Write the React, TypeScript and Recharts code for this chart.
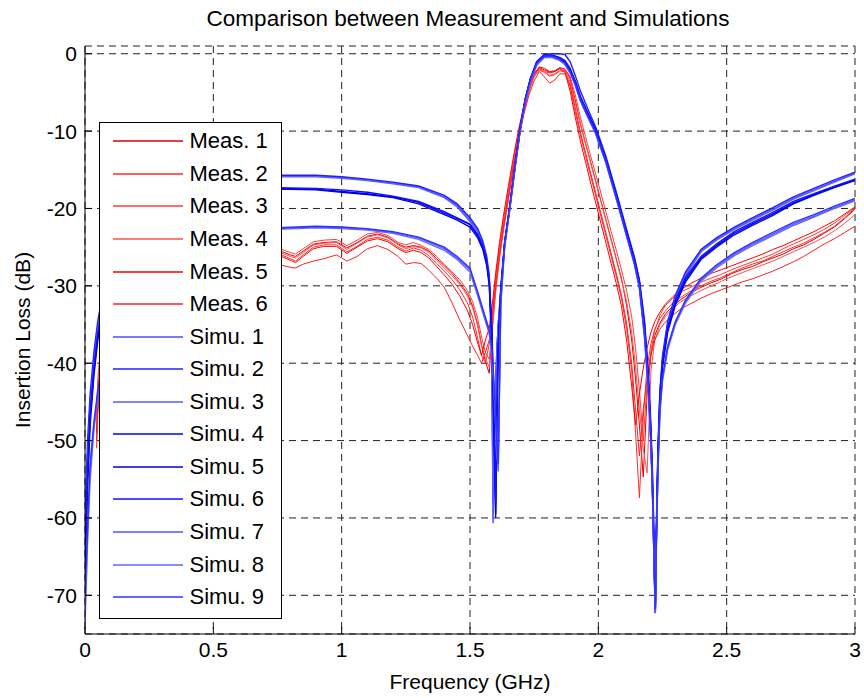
import React from 'react';
import { LineChart, Line, XAxis, YAxis, CartesianGrid, Legend } from 'recharts';

const FONT = '"Liberation Sans", Arial, Helvetica, sans-serif';

// measured traces share one frequency grid (GHz)
const measFreq = [
  0.045, 0.05, 0.06, 0.08, 0.12, 0.2, 0.3, 0.45, 0.6, 0.72,
  0.76, 0.8, 0.82, 0.85, 0.89, 0.93, 0.98, 1.02, 1.06, 1.1,
  1.14, 1.18, 1.22, 1.25, 1.28, 1.31, 1.34, 1.37, 1.4, 1.43,
  1.46, 1.49, 1.51, 1.53, 1.545, 1.56, 1.575, 1.59, 1.6, 1.615,
  1.63, 1.65, 1.67, 1.69, 1.71, 1.73, 1.75, 1.77, 1.79, 1.81,
  1.83, 1.85, 1.87, 1.89, 1.91, 1.93, 1.95, 1.97, 1.99, 2.01,
  2.03, 2.05, 2.07, 2.09, 2.11, 2.13, 2.145, 2.16, 2.175, 2.19,
  2.205, 2.22, 2.24, 2.26, 2.29, 2.32, 2.36, 2.4, 2.44, 2.48,
  2.52, 2.56, 2.6, 2.64, 2.68, 2.72, 2.76, 2.8, 2.84, 2.88,
  2.92, 2.96, 3.0,
];

const meas1 = [
  -49, -44, -39.5, -34.5, -30.5, -27.5, -26, -25.2, -25.3, -25.2,
  -25.5, -26.0, -26.2, -25.5, -24.6, -24.4, -24.3, -25.1, -24.4, -23.6,
  -23.3, -23.7, -24.6, -25.0, -24.8, -25.0, -25.5, -26.5, -27.4, -28.4,
  -29.6, -31.0, -32.6, -35.0, -37.6, -39.8, -41.3, -34.0, -30.2, -26.0,
  -22.6, -18.4, -14.3, -10.5, -7.3, -4.6, -2.6, -1.7, -1.9, -2.3,
  -2.2, -1.8, -2.0, -3.2, -6.0, -9.0, -11.6, -14.0, -16.5, -19.0,
  -21.5, -24.0, -26.5, -29.0, -32.5, -37.0, -42.0, -48.0, -54.7, -44.0,
  -39.0, -36.4, -34.8, -33.7, -32.6, -31.8, -30.9, -30.2, -29.6, -29.1,
  -28.4, -27.9, -27.5, -26.9, -26.4, -25.9, -25.2, -24.7, -24.0, -23.2,
  -22.4, -21.3, -20.1,
];
const meas2 = [
  -47, -43, -38.5, -34, -30.5, -27.8, -26.3, -25.4, -25.5, -25.6,
  -25.9, -26.5, -26.8, -26.0, -25.0, -24.7, -24.7, -25.6, -24.9, -24.0,
  -23.7, -24.1, -25.0, -25.5, -25.1, -25.4, -26.1, -27.1, -28.1, -29.2,
  -30.5, -32.2, -34.0, -36.8, -39.0, -40.0, -37.5, -32.5, -29.0, -25.0,
  -21.6, -17.6, -13.7, -10.0, -6.9, -4.4, -2.9, -2.1, -2.4, -2.9,
  -2.7, -2.2, -2.3, -4.2, -7.5, -10.5, -13.2, -15.8, -18.4, -21.0,
  -23.6, -26.2, -28.8, -31.6, -35.5, -41.0, -49.0, -57.4, -47.0, -40.5,
  -37.5, -35.6, -34.2, -33.3, -32.2, -31.5, -30.7, -30.0, -29.4, -28.9,
  -28.3, -27.7, -27.2, -26.8, -26.2, -25.6, -25.0, -24.5, -23.8, -23.1,
  -22.3, -21.2, -20.0,
];
const meas3 = [
  -46, -42, -38, -33.5, -30, -27, -25.6, -24.8, -24.9, -24.9,
  -25.2, -25.7, -25.9, -25.2, -24.3, -24.1, -24.0, -24.8, -24.1, -23.3,
  -23.1, -23.5, -24.4, -24.7, -24.4, -24.8, -25.3, -26.2, -27.2, -28.2,
  -29.2, -30.6, -32.0, -34.2, -36.6, -38.6, -39.5, -34.6, -30.8, -26.5,
  -22.9, -18.8, -14.6, -10.8, -7.6, -4.9, -3.0, -2.0, -2.3, -2.5,
  -2.3, -1.9, -2.0, -2.9, -5.3, -8.2, -10.7, -13.2, -15.6, -18.0,
  -20.5, -23.0, -25.4, -27.9, -30.6, -34.0, -38.0, -43.5, -50.0, -42.5,
  -38.4, -35.8, -33.8, -32.6, -31.6, -30.8, -30.2, -29.5, -29.0, -28.5,
  -27.9, -27.4, -26.9, -26.4, -25.9, -25.2, -24.6, -24.0, -23.4, -22.7,
  -21.9, -20.9, -19.9,
];
const meas4 = [
  -48, -43.5, -39, -34.5, -30.8, -27.6, -26.1, -25.3, -25.4, -25.4,
  -25.7, -26.2, -26.4, -25.7, -24.7, -24.5, -24.4, -25.3, -24.5, -23.7,
  -23.4, -23.8, -24.7, -25.2, -24.9, -25.1, -25.7, -26.7, -27.7, -28.7,
  -29.8, -31.3, -32.8, -35.2, -37.8, -39.4, -40.5, -33.4, -29.7, -25.6,
  -22.2, -18.0, -14.0, -10.3, -7.1, -4.5, -2.8, -1.9, -2.3, -2.8,
  -2.6, -2.1, -2.2, -3.6, -6.3, -9.1, -11.6, -14.1, -16.6, -19.1,
  -21.6, -24.1, -26.6, -29.2, -32.0, -36.0, -40.5, -46.0, -51.0, -54.2,
  -41.0, -37.0, -35.0, -34.0, -32.9, -32.1, -31.3, -30.6, -30.0, -29.4,
  -28.8, -28.3, -27.8, -27.3, -26.8, -26.2, -25.6, -25.0, -24.4, -23.7,
  -22.9, -21.9, -20.8,
];
const meas5 = [
  -50, -45.5, -40.5, -35.5, -31.2, -28, -26.4, -25.5, -25.6, -25.8,
  -26.1, -26.7, -27.0, -26.2, -25.2, -24.9, -24.9, -25.8, -25.0, -24.2,
  -23.9, -24.3, -25.2, -25.7, -25.4, -25.7, -26.4, -27.5, -28.6, -29.8,
  -31.3, -33.2, -35.0, -37.4, -39.0, -37.0, -35.5, -31.5, -28.3, -24.4,
  -21.0, -17.0, -13.2, -9.7, -6.7, -4.2, -2.6, -1.8, -2.1, -2.4,
  -2.3, -1.9, -2.4, -4.8, -8.2, -11.3, -14.0, -16.7, -19.3, -21.9,
  -24.5, -27.1, -29.7, -32.6, -37.0, -43.0, -48.0, -44.0, -40.6, -38.0,
  -36.0, -34.6, -33.4, -32.4, -31.4, -30.5, -29.7, -29.0, -28.4, -27.9,
  -27.4, -26.9, -26.4, -25.9, -25.3, -24.8, -24.2, -23.6, -23.0, -22.3,
  -21.6, -20.7, -19.8,
];
const meas6 = [
  -51, -46.5, -41.5, -36.5, -32.5, -29.5, -28, -27.2, -27.2, -27.1,
  -27.3, -27.6, -27.7, -27.2, -26.8, -26.5, -26.0, -26.8, -26.2, -25.2,
  -24.8, -25.3, -26.2, -27.2, -27.0, -27.1, -28.0, -29.0, -30.2, -32.2,
  -34.4, -36.4, -37.8, -39.0, -40.0, -38.6, -37.0, -33.0, -29.8, -25.9,
  -22.4, -18.4, -14.5, -10.9, -7.8, -5.3, -3.5, -2.3, -3.0, -3.8,
  -3.4, -2.6, -2.6, -4.0, -7.0, -10.1, -12.8, -15.4, -18.0, -20.6,
  -23.2, -25.8, -28.4, -31.2, -34.8, -40.0, -46.0, -52.0, -46.0, -42.0,
  -38.8, -37.0, -35.6, -34.7, -33.8, -33.0, -32.3, -31.6, -31.0, -30.5,
  -30.0, -29.5, -29.1, -28.6, -28.1, -27.5, -26.9, -26.2, -25.4, -24.6,
  -23.9, -23.1, -22.3,
];

// simulated traces share another grid, denser around the two notches
const simFreq = [
  0, 0.01, 0.02, 0.035, 0.05, 0.08, 0.12, 0.2, 0.3, 0.45,
  0.6, 0.75, 0.9, 1.0, 1.1, 1.2, 1.3, 1.4, 1.45, 1.5,
  1.53, 1.55, 1.565, 1.575, 1.585, 1.59, 1.595, 1.6, 1.605, 1.61,
  1.62, 1.635, 1.655, 1.675, 1.695, 1.715, 1.735, 1.76, 1.79, 1.82,
  1.85, 1.87, 1.89, 1.91, 1.93, 1.96, 1.99, 2.03, 2.07, 2.11,
  2.14, 2.16, 2.18, 2.195, 2.205, 2.212, 2.218, 2.222, 2.226, 2.232,
  2.24, 2.25, 2.27, 2.3, 2.34, 2.4, 2.46, 2.53, 2.6, 2.68,
  2.76, 2.84, 2.92, 3.0,
];

const simu1 = [
  -62, -52, -45, -39, -35, -29.5, -25.5, -21, -18.6, -16.9,
  -16.1, -15.8, -15.8, -16.0, -16.3, -16.7, -17.2, -18.5, -19.6, -21.5,
  -22.8, -24.5, -26.5, -29, -38, -60.7, -48, -42, -38, -35,
  -30.5, -24.5, -19.8, -14.6, -9.8, -6.0, -3.4, -1.2, -0.2, -0.2,
  -0.5, -0.9, -2.0, -3.6, -5.6, -7.8, -9.9, -13.7, -18.2, -23.0,
  -26.5, -29.5, -35, -42, -49, -56, -65, -72.3, -62, -52,
  -44, -39.5, -35, -31.5, -28.5, -25.5, -24.0, -22.6, -21.4, -20.1,
  -18.7, -17.6, -16.5, -15.4,
];
const simu2 = [
  -60, -50, -44, -38.5, -34.5, -29, -25.2, -20.8, -18.4, -16.8,
  -16.0, -15.7, -15.7, -15.9, -16.2, -16.6, -17.1, -18.3, -19.4, -21.2,
  -22.6, -24.2, -26.2, -28.6, -37, -58, -50, -43, -38.5, -35.2,
  -30.8, -24.8, -20.0, -14.8, -10.0, -6.2, -3.5, -1.3, -0.1, 0,
  0, -0.1, -1.0, -2.8, -4.8, -7.2, -9.5, -13.3, -17.9, -22.7,
  -26.2, -29.2, -34.5, -41, -48, -55, -64, -71.5, -61, -51,
  -43.5, -39, -34.6, -31.2, -28.2, -25.3, -23.8, -22.4, -21.2, -19.9,
  -18.5, -17.4, -16.3, -15.3,
];
const simu3 = [
  -64, -53, -46, -40, -35.5, -30, -25.8, -21.2, -18.8, -17.0,
  -16.2, -15.9, -15.9, -16.1, -16.4, -16.8, -17.3, -18.6, -19.8, -21.7,
  -23.0, -24.7, -26.8, -29.5, -39, -60.2, -49, -42.5, -38.2, -35.1,
  -30.6, -24.6, -19.9, -14.7, -9.9, -6.1, -3.5, -1.3, -0.3, -0.3,
  -0.6, -1.1, -2.2, -3.8, -5.8, -8.0, -10.1, -13.9, -18.4, -23.2,
  -26.7, -29.7, -35.5, -42.5, -49.5, -57, -66, -72, -63, -52.5,
  -44.5, -39.8, -35.3, -31.7, -28.7, -25.6, -24.1, -22.7, -21.5, -20.2,
  -18.8, -17.7, -16.6, -15.5,
];
const simu4 = [
  -66, -55, -47, -41, -36.5, -31, -27, -22.5, -20.2, -18.5,
  -17.7, -17.4, -17.5, -17.8, -18.1, -18.5, -19.2, -20.6, -21.3, -22.1,
  -23.5, -25.0, -27.0, -29.5, -36, -42, -50, -60, -46, -38,
  -30.5, -24.4, -19.7, -14.5, -9.7, -5.9, -3.3, -1.1, -0.2, -0.3,
  -0.7, -1.2, -2.3, -3.9, -5.9, -8.1, -10.2, -14.0, -18.6, -23.4,
  -26.9, -30.0, -36, -43, -50, -58, -67, -72.3, -63, -53,
  -45, -40.5, -36, -32.5, -29.5, -26.6, -25.0, -23.4, -22.2, -20.9,
  -19.4, -18.3, -17.3, -16.4,
];
const simu5 = [
  -68, -56, -48, -41.5, -37, -31.5, -27.3, -22.7, -20.3, -18.6,
  -17.8, -17.5, -17.6, -17.9, -18.2, -18.6, -19.4, -20.8, -21.5, -22.4,
  -23.8, -25.3, -27.4, -30, -37, -44, -52, -59.5, -47, -38.5,
  -30.8, -24.6, -19.9, -14.7, -9.9, -6.0, -3.4, -1.2, -0.2, -0.2,
  -0.6, -1.0, -2.1, -3.7, -5.7, -7.9, -10.0, -13.8, -18.4, -23.1,
  -26.6, -29.8, -35.5, -42.5, -49.5, -57.5, -66.5, -72, -62.5, -52.5,
  -44.5, -40.2, -35.7, -32.2, -29.2, -26.4, -24.8, -23.2, -22.0, -20.7,
  -19.3, -18.2, -17.2, -16.3,
];
const simu6 = [
  -65, -54, -46.5, -40.5, -36, -30.7, -26.8, -22.3, -20.0, -18.4,
  -17.6, -17.3, -17.4, -17.6, -17.9, -18.4, -19.1, -20.4, -21.2, -22.0,
  -23.3, -24.8, -26.7, -29.2, -35, -41, -49, -58, -45, -37.5,
  -30.2, -24.2, -19.6, -14.4, -9.6, -5.8, -3.2, -1.0, -0.1, -0.2,
  -0.5, -0.9, -1.9, -3.5, -5.5, -7.7, -9.8, -13.6, -18.1, -22.9,
  -26.4, -29.4, -35, -42, -49, -57, -66, -71.5, -62, -52,
  -44, -39.8, -35.4, -31.9, -28.9, -26.2, -24.6, -23.0, -21.8, -20.5,
  -19.1, -18.1, -17.1, -16.2,
];
const simu7 = [
  -72, -62, -54, -48, -44, -38, -33.5, -28.5, -25.8, -23.9,
  -23.0, -22.6, -22.4, -22.5, -22.7, -23.1, -23.8, -25.2, -26.4, -27.9,
  -31.0, -33.2, -34.8, -35.9, -38.5, -41, -44, -47.5, -51, -54,
  -32, -24.8, -20.0, -14.8, -10.0, -6.2, -3.6, -1.4, -0.4, -0.4,
  -0.8, -1.3, -2.4, -4.0, -6.0, -8.2, -10.3, -14.1, -18.7, -23.5,
  -27.1, -30.2, -36.5, -43.5, -50.5, -58, -67, -72.3, -63.5, -54,
  -46, -42, -38, -34.8, -32, -29.2, -27.5, -25.9, -24.6, -23.3,
  -22.0, -21.0, -19.9, -18.9,
];
const simu8 = [
  -74, -63, -55, -48.5, -44.5, -38.5, -33.8, -28.7, -26.0, -24.0,
  -23.1, -22.7, -22.5, -22.6, -22.8, -23.2, -24.0, -25.4, -26.6, -28.2,
  -31.3, -33.5, -35.1, -36.2, -39, -41.5, -44.5, -48, -52, -53.5,
  -32.5, -25.0, -20.1, -14.9, -10.1, -6.3, -3.7, -1.5, -0.5, -0.5,
  -0.9, -1.4, -2.5, -4.1, -6.1, -8.3, -10.4, -14.2, -18.8, -23.6,
  -27.2, -30.4, -36.8, -44, -51, -58.5, -67.5, -72, -64, -54.5,
  -46.5, -42.3, -38.3, -35.0, -32.2, -29.4, -27.7, -26.1, -24.8, -23.5,
  -22.2, -21.1, -20.0, -19.0,
];
const simu9 = [
  -70, -61, -53, -47.5, -43.5, -37.5, -33.2, -28.3, -25.6, -23.8,
  -22.9, -22.5, -22.3, -22.4, -22.6, -23.0, -23.7, -25.0, -26.2, -27.7,
  -30.8, -33.0, -34.6, -35.7, -38, -40.5, -43.5, -47, -50.5, -53,
  -31.5, -24.6, -19.8, -14.6, -9.8, -6.0, -3.4, -1.2, -0.3, -0.3,
  -0.7, -1.2, -2.3, -3.9, -5.9, -8.1, -10.2, -14.0, -18.6, -23.4,
  -27.0, -30.0, -36.2, -43.2, -50.2, -57.8, -66.8, -71.8, -63.2, -53.8,
  -45.8, -41.8, -37.8, -34.6, -31.8, -29.0, -27.3, -25.7, -24.4, -23.1,
  -21.8, -20.8, -19.7, -18.7,
];

const xTicks = [0, 0.5, 1, 1.5, 2, 2.5, 3];
const yTicks = [-70, -60, -50, -40, -30, -20, -10, 0];

const measNames = ['Meas. 1', 'Meas. 2', 'Meas. 3', 'Meas. 4', 'Meas. 5', 'Meas. 6'];
const simNames = ['Simu. 1', 'Simu. 2', 'Simu. 3', 'Simu. 4', 'Simu. 5', 'Simu. 6', 'Simu. 7', 'Simu. 8', 'Simu. 9'];
const measColors = ['#d80000', '#ff2a2a', '#ff3b3b', '#ff5050', '#ff0000', '#ff2020'];
const simColors = ['#4d4dff', '#1f1fff', '#5c5cff', '#0000ff', '#0000d8', '#1010ff', '#5555ff', '#6464ff', '#3030ff'];

const measSeries = [meas1, meas2, meas3, meas4, meas5, meas6];
const simSeries = [simu1, simu2, simu3, simu4, simu5, simu6, simu7, simu8, simu9];

const measRows = measFreq.map((f, i) => {
  const row: Record<string, number> = { f };
  measSeries.forEach((s, k) => { row[`m${k + 1}`] = s[i]; });
  return row;
});
const simRows = simFreq.map((f, i) => {
  const row: Record<string, number> = { f };
  simSeries.forEach((s, k) => { row[`s${k + 1}`] = s[i]; });
  return row;
});

const legendItems = [
  ...measNames.map((name, i) => ({ name, color: measColors[i] })),
  ...simNames.map((name, i) => ({ name, color: simColors[i] })),
];

const LegendBox = () => (
  <div style={{ width: 183, height: 497, boxSizing: 'border-box', border: '1.5px solid #000', background: '#fff', paddingTop: 2, fontFamily: FONT }}>
    {legendItems.map(item => (
      <div key={item.name} style={{ display: 'flex', alignItems: 'center', height: 32.57 }}>
        <svg width={70} height={4} style={{ marginLeft: 12.5, display: 'block' }}>
          <line x1={0} y1={2} x2={70} y2={2} stroke={item.color} strokeWidth={1.5} />
        </svg>
        <span style={{ marginLeft: 7, fontSize: 22, lineHeight: '22px', color: '#000' }}>{item.name}</span>
      </div>
    ))}
  </div>
);

const YAxisTitle = (props: any) => {
  const vb = props.viewBox || { x: 0, y: 46, width: 85, height: 588 };
  const cx = vb.x + 22;
  const cy = vb.y + vb.height / 2;
  return (
    <text x={cx} y={cy} transform={`rotate(-90 ${cx} ${cy})`} textAnchor="middle" dominantBaseline="central" fontSize={21} fill="#000" fontFamily={FONT}>
      Insertion Loss (dB)
    </text>
  );
};

const tickStyle = { fontSize: 21, fill: '#000', fontFamily: FONT };

export default function App() {
  return (
    <div style={{ position: 'absolute', left: 0, top: 0, width: 864, height: 698, background: '#fff', fontFamily: FONT }}>
      <div style={{ position: 'absolute', left: 83, top: 8, width: 770, textAlign: 'center', fontSize: 22.5, lineHeight: '22px', color: '#000', zIndex: 2 }}>
        Comparison between Measurement and Simulations
      </div>
      <LineChart width={864} height={698} margin={{ top: 46, right: 9, bottom: 0, left: 0 }}>
        <CartesianGrid stroke="#222" strokeDasharray="7 5" strokeWidth={1} />
        <XAxis
          type="number"
          dataKey="f"
          domain={[0, 3]}
          ticks={xTicks}
          allowDataOverflow
          height={64}
          tickSize={-7}
          tickMargin={15}
          tick={tickStyle}
          axisLine={{ stroke: '#000' }}
          tickLine={{ stroke: '#000' }}
          label={{ value: 'Frequency (GHz)', position: 'insideBottom', offset: 9, fontSize: 21, fill: '#000' }}
        />
        <XAxis
          xAxisId="top"
          orientation="top"
          type="number"
          dataKey="f"
          domain={[0, 3]}
          ticks={xTicks}
          allowDataOverflow
          height={0}
          tickSize={-7}
          tickFormatter={() => ''}
          axisLine={{ stroke: '#000' }}
          tickLine={{ stroke: '#000' }}
        />
        <YAxis
          type="number"
          domain={[-75, 1]}
          ticks={yTicks}
          allowDataOverflow
          width={85}
          tickSize={-7}
          tickMargin={15}
          tick={tickStyle}
          axisLine={{ stroke: '#000' }}
          tickLine={{ stroke: '#000' }}
          label={<YAxisTitle />}
        />
        <YAxis
          yAxisId="right"
          orientation="right"
          type="number"
          domain={[-75, 1]}
          ticks={yTicks}
          allowDataOverflow
          width={0}
          tickSize={-7}
          tickFormatter={() => ''}
          axisLine={{ stroke: '#000' }}
          tickLine={{ stroke: '#000' }}
        />
        {measSeries.map((_, k) => (
          <Line
            key={`m${k + 1}`}
            data={measRows}
            dataKey={`m${k + 1}`}
            type="linear"
            stroke={measColors[k]}
            strokeWidth={1}
            dot={false}
            activeDot={false}
            isAnimationActive={false}
          />
        ))}
        {simSeries.map((_, k) => (
          <Line
            key={`s${k + 1}`}
            data={simRows}
            dataKey={`s${k + 1}`}
            type="linear"
            stroke={simColors[k]}
            strokeWidth={1.4}
            dot={false}
            activeDot={false}
            isAnimationActive={false}
          />
        ))}
        <Legend
          layout="vertical"
          align="center"
          verticalAlign="middle"
          content={() => <LegendBox />}
          wrapperStyle={{ left: 99, top: 122, width: 183, height: 497 }}
        />
      </LineChart>
    </div>
  );
}
